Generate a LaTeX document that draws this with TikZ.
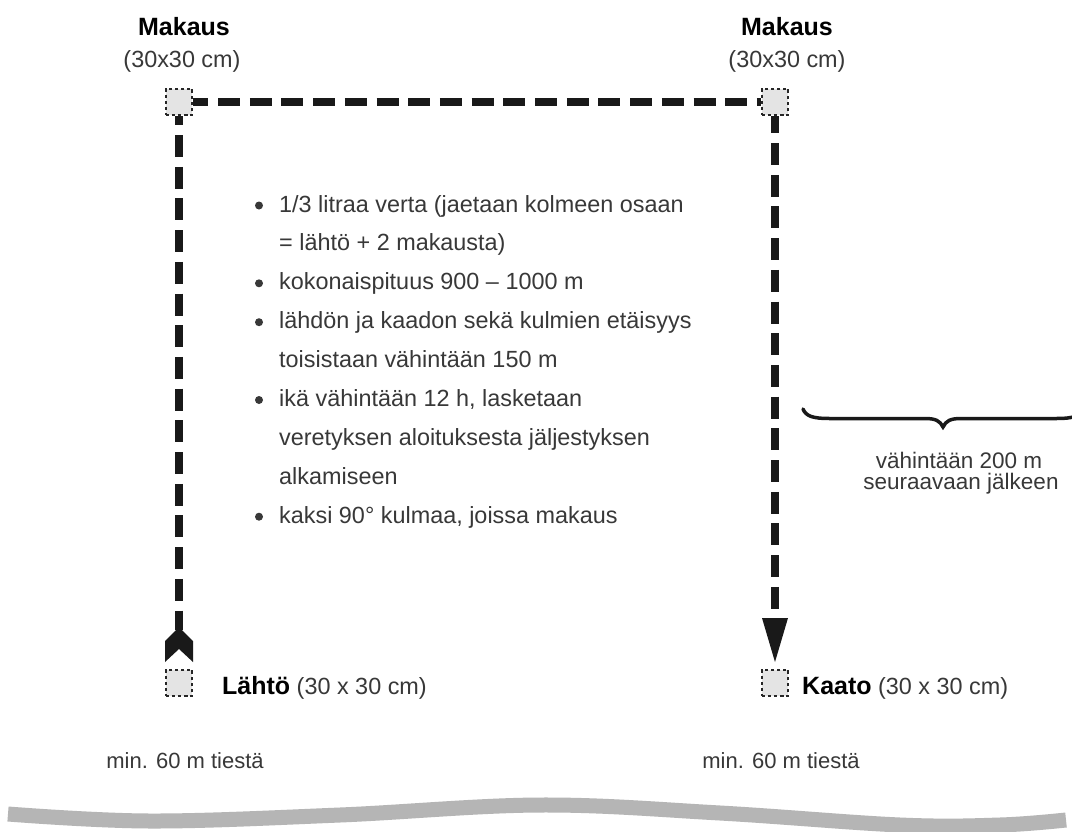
\documentclass[tikz,border=0pt]{standalone}
\usepackage{fontspec}
\setmainfont{Liberation Sans}
\definecolor{txt}{HTML}{383838}
\definecolor{sqfill}{HTML}{E4E4E4}
\definecolor{roadgray}{HTML}{B5B5B5}
\begin{document}
\begin{tikzpicture}[x=1pt,y=-1pt,
  sq/.style={draw=black!85, fill=sqfill, line width=2.2pt, dash pattern=on 3.5pt off 2.6pt, minimum size=26.5pt, inner sep=0pt},
  route/.style={line width=8pt, draw=black!90, dash pattern=on 22pt off 9.7pt},
  lbl/.style={inner sep=0pt, text=txt, font=\fontsize{23.4}{27}\selectfont},
  boldlbl/.style={inner sep=0pt, text=black, font=\fontsize{25}{29}\selectfont\bfseries},
  itemtext/.style={lbl, anchor=base west},
  dot/.style={circle, fill=txt, inner sep=0pt, minimum size=8pt},
  headfill/.style={fill=black!90}]
\useasboundingbox (0,0) rectangle (1072,831);
\fill[white] (0,0) rectangle (1072,831);

% road
\draw[line width=15pt, roadgray] plot[smooth, tension=0.6] coordinates {(8,814) (150,821) (340,815) (540,805) (720,813) (900,825) (1000,825) (1066,820)};

% squares
\node[sq] (tl) at (179,102) {};
\node[sq] (tr) at (775,102) {};
\node[sq] (lh) at (179,683) {};
\node[sq] (ka) at (775,683) {};

% labels of squares
\node[boldlbl, anchor=base] (mk1) at (184,35) {Makaus};
\node[lbl, anchor=base] (sz1) at (182,67) {(30x30 cm)};
\node[boldlbl, anchor=base] (mk2) at (787,35) {Makaus};
\node[lbl, anchor=base] (sz2) at (787,67) {(30x30 cm)};
\node[lbl, anchor=base west] (lhl) at (222,694) {{\fontsize{25}{29}\selectfont\bfseries\color{black}Lähtö} (30 x 30 cm)};
\node[lbl, anchor=base west] (kal) at (802,694) {{\fontsize{25}{29}\selectfont\bfseries\color{black}Kaato} (30 x 30 cm)};

% route
\coordinate (tailtop) at (179,630);
\coordinate (headbase) at (775,620);
\draw[route, dash phase=13pt] (tl.south) -- (tailtop);
\draw[route, dash phase=7pt] (tl.east) -- (tr.west);
\draw[route, dash phase=5pt] (tr.south) -- (headbase);
\fill[headfill] (179,627) -- (193,641) -- (193,662) -- (179,649) -- (165,662) -- (165,641) -- cycle;
\fill[headfill] (762,618) -- (788,618) -- (775,662) -- cycle;

% bullet list
\node[itemtext] (t1) at (279,212) {1/3 litraa verta (jaetaan kolmeen osaan};
\node[itemtext] (t2) at (279,250.9) {= lähtö + 2 makausta)};
\node[itemtext] (t3) at (279,289.8) {kokonaispituus 900 – 1000 m};
\node[itemtext] (t4) at (279,328.7) {lähdön ja kaadon sekä kulmien etäisyys};
\node[itemtext] (t5) at (279,367.6) {toisistaan vähintään 150 m};
\node[itemtext] (t6) at (279,406.5) {ikä vähintään 12 h, lasketaan};
\node[itemtext] (t7) at (279,445.4) {veretyksen aloituksesta jäljestyksen};
\node[itemtext] (t8) at (279,484.3) {alkamiseen};
\node[itemtext] (t9) at (279,523.2) {kaksi 90° kulmaa, joissa makaus};
\node[dot] (b1) at (259,205.5) {};
\node[dot] (b2) at (259,283.3) {};
\node[dot] (b3) at (259,322.2) {};
\node[dot] (b4) at (259,400) {};
\node[dot] (b5) at (259,516.7) {};

% brace
\draw[line width=3.5pt, black!90, line cap=round] (803,409) .. controls (806,416) and (812,418.5) .. (830,418.5) -- (925,418.5) .. controls (936,418.5) and (940,421) .. (943,427) .. controls (946,421) and (950,418.5) .. (961,418.5) -- (1056,418.5) .. controls (1074,418.5) and (1080,416) .. (1083,409);
\node[lbl, anchor=base, font=\fontsize{22.5}{26}\selectfont] (br1) at (959,468) {vähintään 200 m};
\node[lbl, anchor=base, font=\fontsize{22.5}{26}\selectfont] (br2) at (961,489) {seuraavaan jälkeen};

% road labels
\node[lbl, anchor=base, font=\fontsize{22}{26}\selectfont] (rd1) at (185,768) {min. 60 m tiestä};
\node[lbl, anchor=base, font=\fontsize{22}{26}\selectfont] (rd2) at (781,768) {min. 60 m tiestä};
\end{tikzpicture}
\end{document}
